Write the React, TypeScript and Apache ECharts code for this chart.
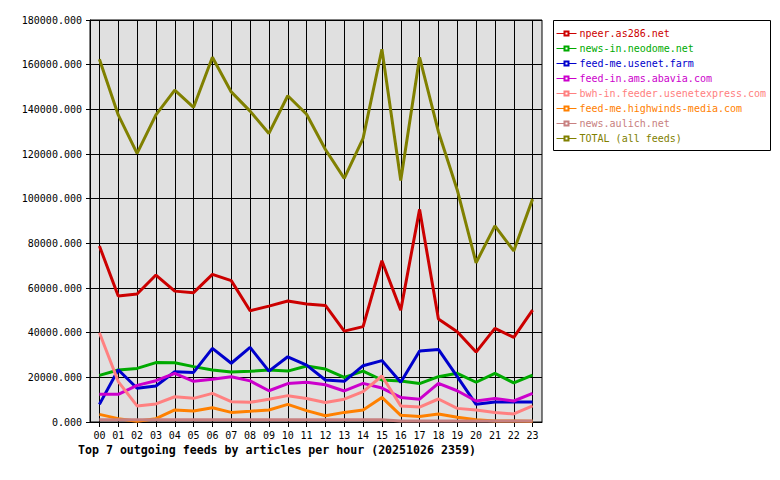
import React, { useEffect, useRef } from "react";
import * as echarts from "echarts";

const hours = ["00","01","02","03","04","05","06","07","08","09","10","11","12","13","14","15","16","17","18","19","20","21","22","23"];

const feedNames = [
  "npeer.as286.net",
  "news-in.neodome.net",
  "feed-me.usenet.farm",
  "feed-in.ams.abavia.com",
  "bwh-in.feeder.usenetexpress.com",
  "feed-me.highwinds-media.com",
  "news.aulich.net",
  "TOTAL (all feeds)",
];

const feedColors = ["#cc0000", "#00aa00", "#0000cc", "#cc00cc", "#ff8080", "#ff8000", "#c88080", "#808000"];

const npeer = [78800, 56400, 57300, 65800, 58600, 57900, 66100, 63300, 49800, 51900, 54200, 52800, 52200, 40700, 42700, 72200, 50100, 95200, 46100, 40400, 31300, 41900, 37900, 50100];
const neodome = [20900, 23300, 24000, 26600, 26500, 24800, 23300, 22400, 22700, 23300, 22800, 25100, 23700, 20000, 22800, 18800, 18400, 17200, 20300, 21800, 17800, 21800, 17500, 21000];
const usenetFarm = [7900, 23400, 15100, 16100, 22500, 22200, 33000, 26300, 33400, 22800, 29200, 25500, 18800, 18200, 25200, 27500, 17800, 31800, 32500, 20300, 7900, 9000, 9000, 9000];
const abavia = [12400, 12400, 16400, 18500, 21800, 18200, 19100, 20300, 18400, 14000, 17200, 17800, 16700, 13900, 17300, 15200, 11000, 10200, 17300, 14000, 9400, 10500, 9400, 12800];
const usenetExpress = [40000, 18100, 7200, 8100, 11300, 10600, 12800, 9100, 8800, 10200, 11800, 10500, 8700, 10200, 13600, 20600, 7200, 6700, 10300, 6100, 5400, 4300, 3600, 7200];
const highwinds = [3400, 1500, 300, 1500, 5400, 4900, 6400, 4300, 4800, 5400, 7900, 5100, 2800, 4300, 5400, 11000, 3000, 2500, 3600, 2100, 1000, 500, 400, 300];
const aulich = [1000, 1000, 1000, 1000, 1000, 1000, 1000, 1000, 1000, 1000, 1000, 1000, 1000, 1000, 1000, 1000, 500, 500, 500, 500, 500, 500, 500, 500];
const total = [162400, 137500, 120300, 137500, 148600, 140900, 163300, 147800, 139200, 129200, 146100, 137800, 122000, 109100, 127000, 166900, 108100, 163300, 130000, 103900, 71300, 87800, 76600, 99800];

const seriesValues = [npeer, neodome, usenetFarm, abavia, usenetExpress, highwinds, aulich, total];

const titleText = "Top 7 outgoing feeds by articles per hour (20251026 2359)";

const MONO = "'DejaVu Sans Mono', 'Liberation Mono', monospace";

export default function App() {
  const ref = useRef<HTMLDivElement>(null);
  useEffect(() => {
    if (!ref.current) return;
    const chart = echarts.init(ref.current, undefined, { renderer: "svg" });
    chart.setOption({
      animation: false,
      backgroundColor: "#ffffff",
      title: {
        text: titleText,
        left: 78,
        top: 444,
        padding: 0,
        textStyle: { fontFamily: MONO, fontWeight: "bold", fontSize: 11.6, color: "#000" },
      },
      graphic: [
        {
          type: "rect",
          shape: { x: 553.5, y: 20.5, width: 217, height: 130 },
          style: { fill: "#fff", stroke: "#000", lineWidth: 1 },
          z: 0,
        },
      ],
      legend: {
        orient: "vertical",
        left: 556,
        top: 26,
        padding: 0,
        itemGap: 0,
        itemWidth: 20,
        itemHeight: 5,
        lineStyle: { width: 1 },
        textStyle: { fontFamily: MONO, fontSize: 10, lineHeight: 15, padding: [0, 0, 0, -2] },
        data: feedNames.map((n, i) => ({ name: n, textStyle: { color: feedColors[i] } })),
      },
      grid: {
        left: 90,
        top: 20,
        width: 452,
        height: 402,
        show: true,
        backgroundColor: "#e0e0e0",
        borderColor: "#000",
        borderWidth: 1,
      },
      xAxis: {
        type: "category",
        data: hours,
        boundaryGap: true,
        axisLine: { lineStyle: { color: "#000", width: 1 } },
        axisTick: { show: true, alignWithLabel: true, length: 5, lineStyle: { color: "#000" } },
        splitLine: { show: true, alignWithLabel: true, lineStyle: { color: "#000", width: 1 } },
        axisLabel: { fontFamily: MONO, fontSize: 10, color: "#000", margin: 8, interval: 0 },
      },
      yAxis: {
        type: "value",
        min: 0,
        max: 180000,
        interval: 20000,
        axisLine: { show: true, lineStyle: { color: "#000", width: 1 } },
        axisTick: { show: true, length: 4, lineStyle: { color: "#000" } },
        splitLine: { show: true, lineStyle: { color: "#000", width: 1 } },
        axisLabel: {
          fontFamily: MONO,
          fontSize: 10,
          color: "#000",
          margin: 8,
          formatter: (v: number) => v.toFixed(3),
        },
      },
      series: feedNames.map((n, i) => ({
        name: n,
        type: "line",
        data: seriesValues[i],
        symbol: "emptyRect",
        showSymbol: false,
        color: feedColors[i],
        lineStyle: { color: feedColors[i], width: 3 },
        itemStyle: { color: feedColors[i] },
        z: 3 + i,
      })),
    });
    return () => chart.dispose();
  }, []);
  return (
    <div
      ref={ref}
      style={{ position: "absolute", left: 0, top: 0, width: 780, height: 480 }}
    />
  );
}
